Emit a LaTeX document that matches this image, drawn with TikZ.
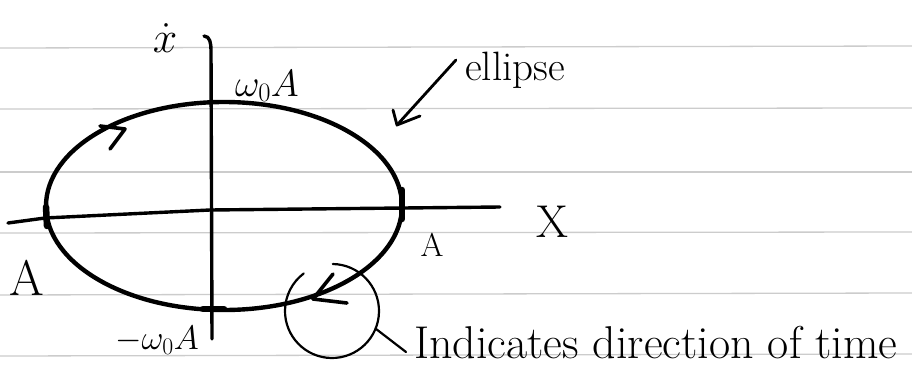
\RequirePackage{fix-cm}
\documentclass[tikz,border=0pt]{standalone}
\usepackage{fontspec}
\usetikzlibrary{calc}
\tikzset{
  ruleline/.style={draw=black!20, line width=1.3pt},
  curve/.style={line width=4.4pt, line cap=round, line join=round},
  axisline/.style={line width=3.4pt, line cap=round, line join=round},
  thin stroke/.style={line width=2.2pt, line cap=round, line join=round},
  tick/.style={line width=6.5pt, line cap=round},
  lbl/.style={inner sep=0pt, text=black},
}
\newcommand{\fs}[1]{\fontsize{#1}{#1}\selectfont}
\begin{document}
\begin{tikzpicture}[x=1pt, y=-1pt]
  \useasboundingbox (0,0) rectangle (912,372);
  \fill[white] (0,0) rectangle (912,372);
  % ruled paper
  \foreach \yy/\zz in {48/46, 109/108, 172/172, 233/232, 295/293, 356/354}
    \draw[ruleline] (0,\yy) -- (912,\zz);

  % axes
  \coordinate (vtop) at (204,36);
  \coordinate (vtop2) at (211,50);
  \coordinate (vbot) at (212,339);
  \draw[axisline] (vtop) to[out=0,in=90] (vtop2) -- (vbot);
  \coordinate (hl) at (8,223);
  \coordinate (hm) at (45,218);
  \coordinate (hc) at (210,210);
  \coordinate (hr) at (500,207);
  \draw[axisline] (hl) -- (hm) -- (hc) -- (hr);

  % ellipse (phase trajectory)
  \coordinate (ctr) at (224,206);
  \draw[curve] (ctr) ellipse [x radius=178, y radius=104];
  % marks where it crosses the axes
  \draw[tick] (46,207) -- (47,226);
  \draw[tick] (402,190) -- (402,219);
  \draw[tick] (203,309) -- (224,309);

  % direction arrows on the trajectory
  \coordinate (t1) at (125,129);
  \draw[curve, line width=3.6pt] (100,126) -- (t1) -- (110,149);
  \coordinate (t2) at (313,299);
  \draw[curve, line width=3.6pt] (333,274) -- (t2) -- (347,303);

  % labels
  \node[lbl, font=\fs{44}] (xdot) at (165,38) {$\dot{x}$};
  \node[lbl, font=\fs{38}] (top) at (267,86) {$\omega_0 A$};
  \node[lbl, font=\fs{34}] (bot) at (157,340) {$-\omega_0 A$};
  \node[lbl, font=\fs{46}] (xlab) at (552,222) {X};
  \node[lbl, font=\fs{33}] (ar) at (432,245) {A};
  \node[lbl, font=\fs{50}] (al) at (27,278) {A};
  \node[lbl, font=\fs{41}] (ell) at (515,70) {ellipse};

  % arrow from "ellipse" to the curve
  \coordinate (etip) at (397,125);
  \draw[thin stroke, line width=2.8pt] ([shift={(-9,-10)}]ell.west) -- (etip);
  \draw[thin stroke, line width=2.8pt] (393,110) -- (etip) -- (420,116);

  % circle around the bottom arrow
  \coordinate (cc) at (332,311);
  \draw[thin stroke] ($(cc)+(271:47)$) arc[start angle=271, end angle=593, radius=47];
  \coordinate (cpt) at ($(cc)+(22:47)$);

  \node[lbl, font=\fs{46}, anchor=base west] (note) at (414,358) {Indicates direction of time};
  \draw[thin stroke] (cpt) -- ([shift={(-8,-6)}]note.base west);
\end{tikzpicture}
\end{document}
